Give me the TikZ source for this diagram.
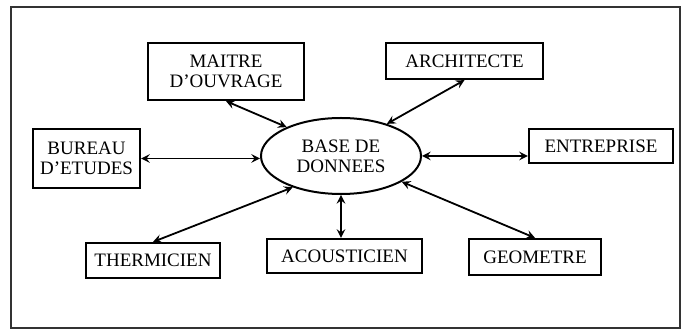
\documentclass[tikz,border=0pt]{standalone}
\usepackage{fontspec}
\setmainfont{Liberation Serif}
\usetikzlibrary{shapes.geometric}

\begin{document}
\begin{tikzpicture}[x=0.5pt, y=-0.5pt]
  \tikzstyle{box}=[rectangle, draw, line width=1.1pt, align=center, inner sep=0pt, font=\fontsize{9.5}{10}\selectfont]
  \tikzstyle{base}=[ellipse, draw, line width=1pt, align=center, inner sep=0pt, font=\fontsize{9.5}{10}\selectfont]
  \tikzstyle{link}=[<->, >=stealth, line width=0.9pt]

  \useasboundingbox (0, 0) rectangle (682, 331);
  \draw[line width=0.7pt, black!80] (11, 7) rectangle (680, 328);

  \node[base, minimum width=80pt, minimum height=38pt]   (db)    at (341,   156)   {BASE DE\\DONNEES};

  \node[box, minimum width=78pt,   minimum height=28.5pt] (mo)    at (226,   71.5)  {MAITRE\\D'OUVRAGE};
  \node[box, minimum width=78.5pt, minimum height=18pt]   (arch)  at (464.5, 61)    {ARCHITECTE};
  \node[box, minimum width=53.5pt, minimum height=29.5pt] (bur)   at (86.5,  158.5) {BUREAU\\D'ETUDES};
  \node[box, minimum width=72pt,   minimum height=17pt]   (ent)   at (601,   146)   {ENTREPRISE};
  \node[box, minimum width=67pt,   minimum height=17.5pt] (therm) at (153,   260.5) {THERMICIEN};
  \node[box, minimum width=77.5pt, minimum height=17pt]   (acou)  at (344.5, 256)   {ACOUSTICIEN};
  \node[box, minimum width=66pt,   minimum height=18pt]   (geo)   at (535,   257)   {GEOMETRE};

  \draw[link] (mo.south)    -- (db.152);
  \draw[link] (arch.south)  -- (db.35);
  \draw[link] (bur.east)    -- (bur.east -| db.west);
  \draw[link] (db.east)     -- (db.east -| ent.west);
  \draw[link] (therm.north) -- (db.213);
  \draw[link] (db.south)    -- (db.south |- acou.north);
  \draw[link] (geo.north)   -- (db.337);

\end{tikzpicture}
\end{document}
